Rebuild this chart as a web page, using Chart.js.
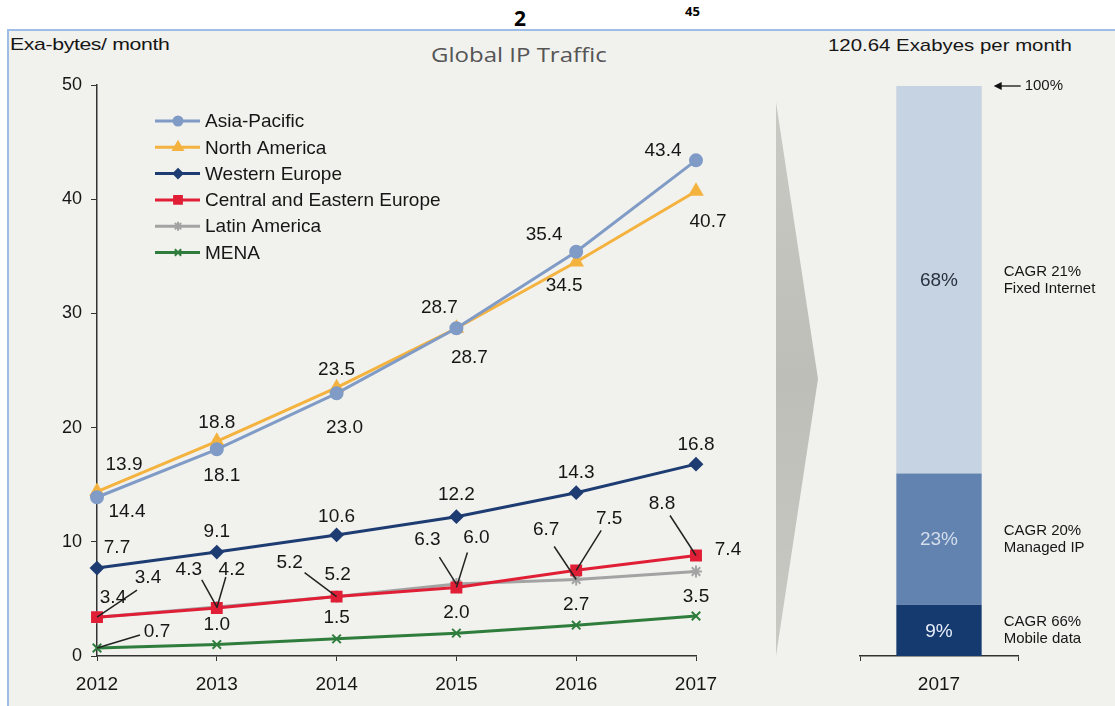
<!DOCTYPE html>
<html>
<head>
<meta charset="utf-8">
<script src="https://cdn.jsdelivr.net/npm/chart.js@4.4.1/dist/chart.umd.min.js"></script>
<style>
  body { margin: 0; background: #fff; font-family: "Liberation Sans", Arial, sans-serif; }
  #wrap { position: relative; width: 1115px; height: 706px; overflow: hidden; }
  .panel { position: absolute; left: 7px; top: 29px; width: 1108px; height: 677px; background: #f1f1ed;
           border-top: 2px solid #9dbde6; border-left: 2px solid #9dbde6; box-sizing: border-box; }
  .txt { position: absolute; white-space: nowrap; color: #161616; transform-origin: left center; }
  canvas { position: absolute; top: 0; }
  .chevron { position: absolute; left: 776px; top: 102px; width: 42px; height: 554px;
             clip-path: polygon(0 0, 100% 50%, 0 100%);
             background: linear-gradient(#cacac5, #bebeb9 50%, #cacac5); }
</style>
</head>
<body>
<div id="wrap">
  <div class="panel"></div>
  <div class="txt" style="left:514px;top:4px;font:bold 21px 'Open Sans',sans-serif;color:#000">2</div>
  <div class="txt" style="left:685px;top:2px;font:bold 13px 'Open Sans',sans-serif;color:#000">45</div>
  <div class="txt" style="left:10px;top:35px;font-size:17px;letter-spacing:-0.3px;transform:scaleX(1.25)">Exa-bytes/ month</div>
  <div class="txt" style="left:431px;top:41px;font:20px 'Open Sans',sans-serif;color:#555;transform:scaleX(1.2)">Global IP Traffic</div>
  <div class="txt" style="left:828px;top:36px;font-size:17px;transform:scaleX(1.2)">120.64 Exabyes per month</div>
  <div class="chevron"></div>
  <canvas id="trafficChart" width="770" height="706" style="left:0"></canvas>
  <canvas id="shareChart" width="285" height="706" style="left:830px"></canvas>
</div>
<script>
const years = ['2012', '2013', '2014', '2015', '2016', '2017']
const asiaPacific = [13.9, 18.1, 23.0, 28.7, 35.4, 43.4]
const northAmerica = [14.4, 18.8, 23.5, 28.7, 34.5, 40.7]
const westernEurope = [7.7, 9.1, 10.6, 12.2, 14.3, 16.8]
const centralEasternEurope = [3.4, 4.2, 5.2, 6.0, 7.5, 8.8]
const latinAmerica = [3.4, 4.3, 5.2, 6.3, 6.7, 7.4]
const mena = [0.7, 1.0, 1.5, 2.0, 2.7, 3.5]
const yTicks = [0, 10, 20, 30, 40, 50]

const shareYear = ['2017']
const shareLabels = ['Mobile data', 'Managed IP', 'Fixed Internet']
const shareValues = [9, 23, 68]
const shareCagr = ['CAGR 66%', 'CAGR 20%', 'CAGR 21%']

const FONT = '"Liberation Sans", Arial, sans-serif'
const INK = '#161616'

// label placement per point: [dx, dy] of text centre, optional leader end [dx, dy]
const labelPlacement = {
  'Asia-Pacific': [[27, -32], [5, 26], [8, 34], [-17, -20], [-32, -17], [-33, -10]],
  'North America': [[30, 20], [0, -19], [0, -18], [13, 30], [-12, 24], [12, 31]],
  'Western Europe': [[20, -20], [0, -20], [0, -18], [0, -22], [0, -20], [0, -19]],
  'Central and Eastern Europe': [[51, -39, 40, -27], [15, -38, 9, -31], [1, -22], [20, -50, 11, -35], [33, -52, 25, -40], [-34, -52, -26, -40]],
  'Latin America': [[16, -19], [-28, -37, -15, -27], [-47, -34, -32, -24], [-29, -44, -17, -27], [-30, -50, -22, -33], [32, -22]],
  'MENA': [[60, -16, 43, -13], [0, -20], [0, -21], [0, -20], [0, -20], [0, -19]]
}

const series = [
  { label: 'Asia-Pacific', data: asiaPacific, color: '#7f9bc6', pointStyle: 'circle', radius: 6 },
  { label: 'North America', data: northAmerica, color: '#f4b23e', pointStyle: 'triangle', radius: 7 },
  { label: 'Western Europe', data: westernEurope, color: '#1d3c72', pointStyle: 'rectRot', radius: 6 },
  { label: 'Central and Eastern Europe', data: centralEasternEurope, color: '#e01f36', pointStyle: 'rect', radius: 7 },
  { label: 'Latin America', data: latinAmerica, color: '#a3a3a3', pointStyle: 'star', radius: 6 },
  { label: 'MENA', data: mena, color: '#2f7d3c', pointStyle: 'crossRot', radius: 6 }
]

const pointLabels = {
  id: 'pointLabels',
  afterDatasetsDraw(chart) {
    const ctx = chart.ctx
    ctx.save()
    ctx.font = '19px ' + FONT
    ctx.fillStyle = INK
    ctx.strokeStyle = '#222'
    ctx.lineWidth = 1.5
    ctx.textAlign = 'center'
    ctx.textBaseline = 'middle'
    chart.data.datasets.forEach((ds, i) => {
      const meta = chart.getDatasetMeta(i)
      const place = labelPlacement[ds.label]
      meta.data.forEach((pt, j) => {
        const p = place[j]
        if (p.length > 2) {
          ctx.beginPath()
          ctx.moveTo(pt.x, pt.y)
          ctx.lineTo(pt.x + p[2], pt.y + p[3])
          ctx.stroke()
        }
        ctx.fillText(ds.data[j].toFixed(1), pt.x + p[0], pt.y + p[1])
      })
    })
    ctx.restore()
  }
}

const seriesLegend = {
  id: 'seriesLegend',
  afterDraw(chart) {
    const ctx = chart.ctx
    ctx.save()
    chart.data.datasets.forEach((ds, i) => {
      const y = 121 + i * 26.3
      ctx.strokeStyle = ds.borderColor
      ctx.lineWidth = 3
      ctx.beginPath()
      ctx.moveTo(155, y)
      ctx.lineTo(200, y)
      ctx.stroke()
      ctx.fillStyle = ds.borderColor
      ctx.lineWidth = 2
      Chart.helpers.drawPoint(ctx, { pointStyle: ds.pointStyle, radius: ds.pointRadius - 1.5, rotation: 0, borderWidth: 2 }, 178, y)
      ctx.fillStyle = INK
      ctx.font = '19px ' + FONT
      ctx.textBaseline = 'middle'
      ctx.fillText(ds.label, 205, y + 1)
    })
    ctx.restore()
  }
}

new Chart(document.getElementById('trafficChart'), {
  type: 'line',
  data: {
    labels: years,
    datasets: series.map(s => ({
      label: s.label,
      data: s.data,
      borderColor: s.color,
      backgroundColor: s.color,
      borderWidth: 3,
      pointStyle: s.pointStyle,
      pointRadius: s.radius,
      pointBorderWidth: 2,
      tension: 0
    }))
  },
  options: {
    responsive: false,
    animation: false,
    layout: { padding: { top: 85, right: 74, left: 0, bottom: 0 } },
    plugins: { legend: { display: false }, tooltip: { enabled: false } },
    scales: {
      x: {
        offset: false,
        grid: { drawOnChartArea: false, tickLength: 5, color: '#333', offset: false },
        border: { color: '#333', width: 1.5 },
        ticks: { color: INK, font: { family: FONT, size: 19 }, padding: 12, maxRotation: 0 },
        afterFit(scale) { scale.height = 50 }
      },
      y: {
        min: yTicks[0],
        max: yTicks[yTicks.length - 1],
        afterBuildTicks(scale) { scale.ticks = yTicks.map(v => ({ value: v })) },
        grid: { drawOnChartArea: false, tickLength: 6, color: '#333' },
        border: { color: '#333', width: 1.5 },
        ticks: { color: INK, font: { family: FONT, size: 18 }, padding: 9 },
        afterFit(scale) { scale.width = 97 }
      }
    }
  },
  plugins: [pointLabels, seriesLegend]
})

const shareNotes = {
  id: 'shareNotes',
  afterDatasetsDraw(chart) {
    const ctx = chart.ctx
    ctx.save()
    const segTextColors = ['#e8eef8', '#d3ddec', '#2a3140']
    let top = null
    chart.data.datasets.forEach((ds, i) => {
      const bar = chart.getDatasetMeta(i).data[0]
      const midY = (bar.y + bar.base) / 2
      ctx.font = '19px ' + FONT
      ctx.textAlign = 'center'
      ctx.textBaseline = 'middle'
      ctx.fillStyle = segTextColors[i]
      ctx.fillText(ds.data[0] + '%', bar.x, midY + 1)
      ctx.font = '15px ' + FONT
      ctx.textAlign = 'left'
      ctx.fillStyle = INK
      const noteX = bar.x + bar.width / 2 + 22
      ctx.fillText(shareCagr[i], noteX, midY - 8)
      ctx.fillText(ds.label, noteX, midY + 9)
      top = bar
    })
    // 100% marker
    const ax = top.x + top.width / 2 + 12
    ctx.strokeStyle = '#111'
    ctx.fillStyle = '#111'
    ctx.lineWidth = 1.3
    ctx.beginPath()
    ctx.moveTo(ax + 4, top.y)
    ctx.lineTo(ax + 27, top.y)
    ctx.stroke()
    ctx.beginPath()
    ctx.moveTo(ax, top.y)
    ctx.lineTo(ax + 8, top.y - 4)
    ctx.lineTo(ax + 8, top.y + 4)
    ctx.closePath()
    ctx.fill()
    ctx.font = '15px ' + FONT
    ctx.textAlign = 'left'
    ctx.textBaseline = 'middle'
    ctx.fillStyle = INK
    ctx.fillText('100%', ax + 31, top.y)
    ctx.restore()
  }
}

const shareColors = ['#153a70', '#6283b0', '#c5d3e2']

new Chart(document.getElementById('shareChart'), {
  type: 'bar',
  data: {
    labels: shareYear,
    datasets: shareValues.map((v, i) => ({
      label: shareLabels[i],
      data: [v],
      backgroundColor: shareColors[i],
      borderWidth: 0,
      barPercentage: 0.54,
      categoryPercentage: 1
    }))
  },
  options: {
    responsive: false,
    animation: false,
    layout: { padding: { top: 86, right: 97, left: 30, bottom: 0 } },
    plugins: { legend: { display: false }, tooltip: { enabled: false } },
    scales: {
      x: {
        stacked: true,
        grid: { drawOnChartArea: false, tickLength: 5, color: '#333', offset: true },
        border: { color: '#333', width: 1.5 },
        ticks: { color: INK, font: { family: FONT, size: 19 }, padding: 12 },
        afterFit(scale) { scale.height = 50 }
      },
      y: { stacked: true, display: false, min: 0, max: 100 }
    }
  },
  plugins: [shareNotes]
})
</script>
</body>
</html>
